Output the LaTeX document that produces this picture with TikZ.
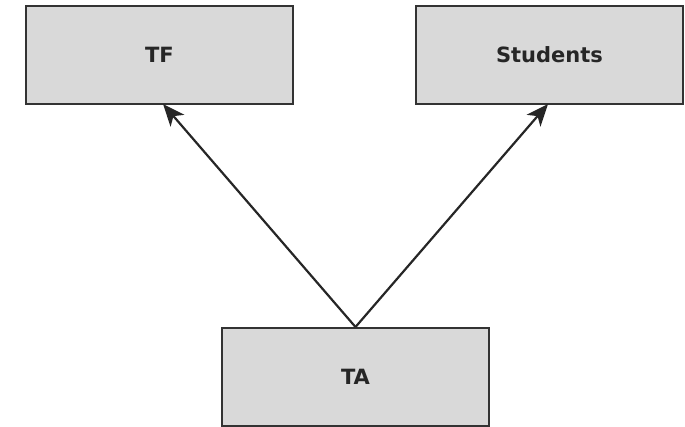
\documentclass[tikz,border=0pt]{standalone}
\usepackage{fontspec}
\setmainfont{DejaVu Sans}
\usetikzlibrary{arrows.meta}
\definecolor{boxfill}{HTML}{D9D9D9}
\definecolor{boxline}{HTML}{333333}
\begin{document}
\begin{tikzpicture}[x=1pt,y=-1pt,
  box/.style={draw=boxline, line width=2pt, fill=boxfill, minimum width=267pt, minimum height=98pt, inner sep=0pt, font=\bfseries\fontsize{21}{25}\selectfont, text=black!85},
  link/.style={line width=2.2pt, draw=black!85, -{Stealth[length=22pt,width=18pt,inset=6pt]}}]
\useasboundingbox (0,0) rectangle (685,426);
\node[box] (tf) at (159.5,55) {TF};
\node[box] (st) at (549.5,55) {Students};
\node[box] (ta) at (355.5,377) {TA};
\coordinate (tfin) at (163,104);
\coordinate (stin) at (548,104);
\draw[link] (ta.north) -- (tfin);
\draw[link] (ta.north) -- (stin);
\end{tikzpicture}
\end{document}
